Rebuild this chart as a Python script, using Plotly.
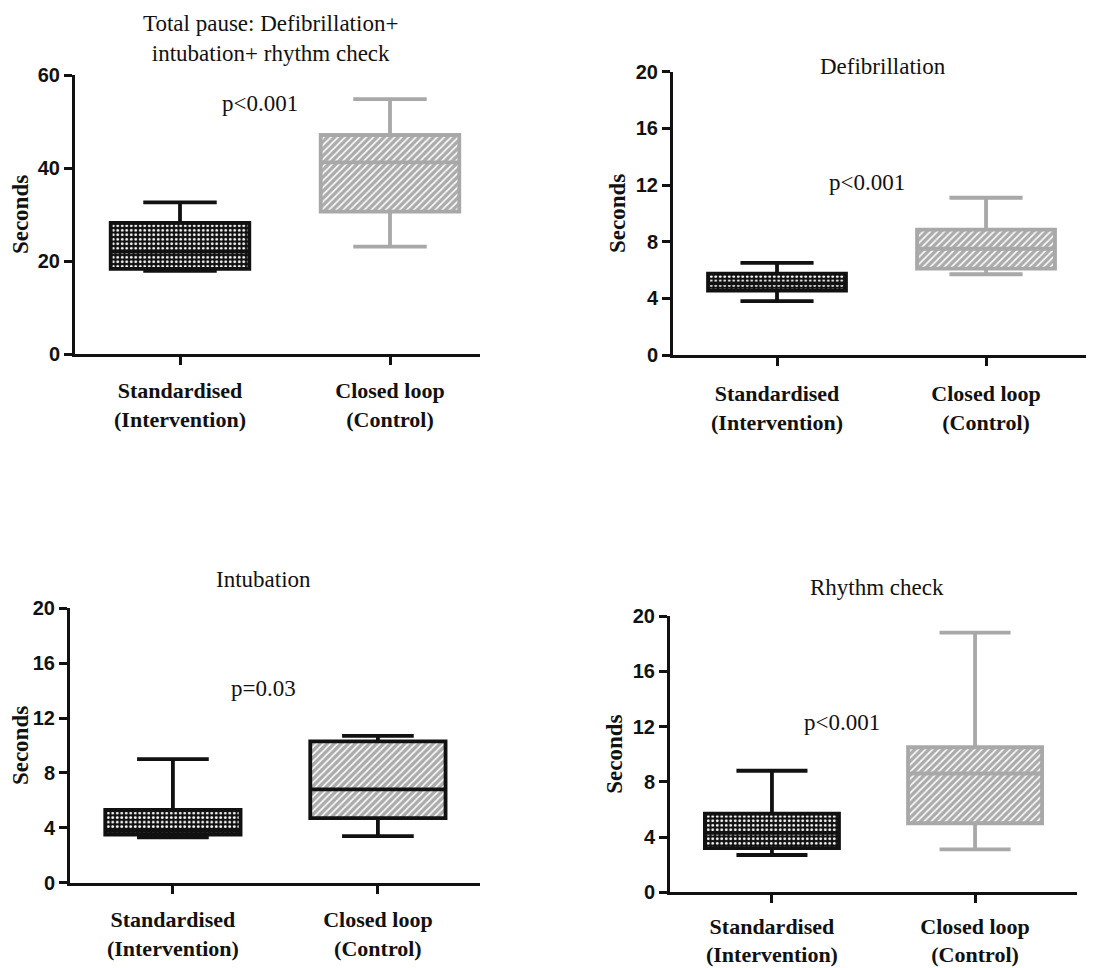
import plotly.graph_objects as go

# ---------------- data ----------------
categories = ["Standardised<br>(Intervention)", "Closed loop<br>(Control)"]
panel_titles = ["Total pause: Defibrillation+<br>intubation+ rhythm check",
                "Defibrillation", "Intubation", "Rhythm check"]
p_values = ["p<0.001", "p<0.001", "p=0.03", "p<0.001"]

# each list: lower whisker, Q1, median, Q3, upper whisker (seconds)
total_std = [17.9, 18.3, 22.0, 28.2, 32.6]
total_ctl = [23.1, 30.6, 41.2, 47.1, 54.8]
defib_std = [3.8, 4.55, 5.05, 5.75, 6.5]
defib_ctl = [5.7, 6.1, 7.5, 8.85, 11.1]
intub_std = [3.3, 3.5, 3.8, 5.3, 9.0]
intub_ctl = [3.4, 4.7, 6.8, 10.3, 10.7]
rhythm_std = [2.7, 3.2, 4.3, 5.7, 8.8]
rhythm_ctl = [3.1, 5.0, 8.6, 10.5, 18.8]

y_max = [60, 20, 20, 20]
y_ticks = [[0, 20, 40, 60], [0, 4, 8, 12, 16, 20], [0, 4, 8, 12, 16, 20], [0, 4, 8, 12, 16, 20]]

# ---------------- layout geometry (page pixels) ----------------
OFF = 8                 # default page body margin
FW, FH = 1094 - OFF, 968 - OFF
SERIF = "Liberation Serif"
SANS = "Liberation Sans"


def fx(px):
    return (px - OFF) / FW


def fy(py):
    return 1 - (py - OFF) / FH


panels = [
    dict(std=total_std, ctl=total_ctl, xpx=(75, 480), ypx=(75, 354), xr=[-0.5, 1.4286],
         ctl_line="#a8a8a8", title_xy=(270, 38), p_xy=(260, 104), standoff=7),
    dict(std=defib_std, ctl=defib_ctl, xpx=(673, 1092), ypx=(71.7, 355), xr=[-0.4976, 1.507],
         ctl_line="#a8a8a8", title_xy=(883, 66), p_xy=(867, 182), standoff=9),
    dict(std=intub_std, ctl=intub_ctl, xpx=(70, 480), ypx=(608.3, 882.7), xr=[-0.502, 1.498],
         ctl_line="#111111", title_xy=(263, 579), p_xy=(263, 688), standoff=7),
    dict(std=rhythm_std, ctl=rhythm_ctl, xpx=(670, 1077), ypx=(616, 892.3), xr=[-0.502, 1.502],
         ctl_line="#a8a8a8", title_xy=(877, 587), p_xy=(842, 722), standoff=4),
]

fig = go.Figure()
layout = dict(
    width=FW, height=FH, margin=dict(l=0, r=0, t=0, b=0, autoexpand=False),
    paper_bgcolor="white", plot_bgcolor="white",
    showlegend=False, barmode="overlay", boxmode="overlay",
)
annotations = []

BOXW = 0.66
for i, p in enumerate(panels):
    n = "" if i == 0 else str(i + 1)
    xa, ya = "x" + n, "y" + n
    groups = [
        (0, p["std"], "#111111", dict(shape=".", fgcolor="white", bgcolor="#111111", size=4.5, solidity=0.3, fillmode="replace")),
        (1, p["ctl"], p["ctl_line"], dict(shape="/", fgcolor="white", bgcolor="#acacac", size=5, solidity=0.3, fillmode="replace")),
    ]
    for pos, s, lc, pat in groups:
        lo, q1, med, q3, hi = s
        fig.add_trace(go.Bar(
            x=[pos], y=[q3 - q1], base=[q1], width=BOXW,
            marker=dict(color=pat["bgcolor"], pattern=pat, line=dict(width=0)),
            xaxis=xa, yaxis=ya, hoverinfo="skip",
        ))
        fig.add_trace(go.Box(
            x=[pos], lowerfence=[lo], q1=[q1], median=[med], q3=[q3], upperfence=[hi],
            width=BOXW, whiskerwidth=0.53, fillcolor="rgba(0,0,0,0)",
            line=dict(color=lc, width=3.8), xaxis=xa, yaxis=ya,
        ))
    x0, x1 = p["xpx"]
    y0, y1 = p["ypx"]
    layout["xaxis" + n] = dict(
        domain=[fx(x0), fx(x1)], range=p["xr"], anchor=ya, automargin=False,
        tickvals=[0, 1], ticktext=categories,
        tickfont=dict(family=SERIF, size=22, color="#111", weight="bold"),
        ticks="outside", ticklen=8, tickwidth=3, tickcolor="#111",
        showline=True, linewidth=3, linecolor="#111",
        showgrid=False, zeroline=False, ticklabelstandoff=p["standoff"],
    )
    layout["yaxis" + n] = dict(
        domain=[fy(y1), fy(y0)], range=[0, y_max[i]], anchor=xa, automargin=False,
        tickvals=y_ticks[i],
        tickfont=dict(family=SANS, size=20, color="#111", weight="bold"),
        ticks="outside", ticklen=8, tickwidth=2.5, tickcolor="#111",
        showline=True, linewidth=3, linecolor="#111",
        showgrid=False, zeroline=False,
        title=dict(text="Seconds", font=dict(family=SERIF, size=23, color="#111", weight="bold"), standoff=4),
    )
    tx, ty = p["title_xy"]
    annotations.append(dict(
        text=panel_titles[i], xref="paper", yref="paper", x=fx(tx), y=fy(ty),
        xanchor="center", yanchor="middle", showarrow=False,
        font=dict(family=SERIF, size=23, color="#111"),
    ))
    px_, py_ = p["p_xy"]
    annotations.append(dict(
        text=p_values[i], xref="paper", yref="paper", x=fx(px_), y=fy(py_),
        xanchor="center", yanchor="middle", showarrow=False,
        font=dict(family=SERIF, size=23, color="#111"),
    ))

layout["annotations"] = annotations
fig.update_layout(**layout)
fig.write_html("out.html")
